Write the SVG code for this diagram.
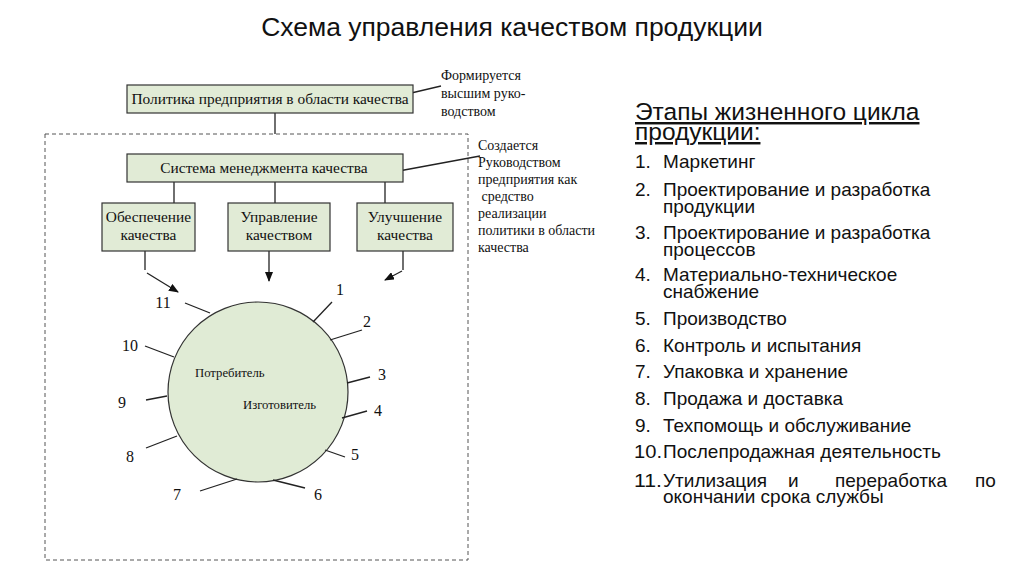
<svg xmlns="http://www.w3.org/2000/svg" width="1024" height="574" viewBox="0 0 1024 574">
<defs>
<marker id="arr" markerWidth="10" markerHeight="8" refX="9" refY="4" orient="auto" markerUnits="userSpaceOnUse">
<path d="M0,0 L10,4 L0,8 Z" fill="#111"/>
</marker>
<style>
.box{fill:#e1ebd6;stroke:#333;stroke-width:1.2}
.ln{stroke:#222;stroke-width:1.3;fill:none}
.tk{stroke:#222;stroke-width:1.3}
.sf{font-family:"Liberation Serif","Times New Roman",serif;fill:#111}
.ss{font-family:"Liberation Sans",Arial,sans-serif;fill:#111}
.bt{font-size:15.4px;text-anchor:middle}
.an{font-size:14px}
.num{font-size:16px;text-anchor:middle}
.li{font-size:19px}
</style>
</defs>
<rect width="1024" height="574" fill="#fff"/>
<text class="ss" x="512" y="36" font-size="26.5" text-anchor="middle">Схема управления качеством продукции</text>

<g id="frame">
<rect x="45" y="134" width="423" height="426" fill="none" stroke="#555" stroke-width="1" stroke-dasharray="4,3"/>
</g>

<g id="connectors">
<line class="ln" x1="275" y1="113" x2="275" y2="134"/>
<line class="ln" x1="407" y1="94" x2="441" y2="86"/>
<line class="ln" x1="388" y1="173" x2="480" y2="156"/>
<line class="ln" x1="174" y1="182" x2="174" y2="203"/>
<line class="ln" x1="275" y1="182" x2="275" y2="203"/>
<line class="ln" x1="385" y1="182" x2="385" y2="203"/>
<polyline class="ln" points="145,251 145,270"/>
<line class="ln" x1="147" y1="273" x2="178" y2="292" marker-end="url(#arr)"/>
<line class="ln" x1="269" y1="251" x2="269" y2="281" marker-end="url(#arr)"/>
<polyline class="ln" points="403,251 403,270"/>
<line class="ln" x1="402" y1="271" x2="385" y2="280" marker-end="url(#arr)"/>
</g>

<g id="policy">
<rect class="box" x="127" y="85" width="286" height="28"/>
<text class="sf bt" x="270" y="104">Политика предприятия в области качества</text>
</g>
<g id="policy-note">
<text class="sf an" x="441" y="80">Формируется</text>
<text class="sf an" x="441" y="98">высшим руко-</text>
<text class="sf an" x="441" y="116">водством</text>
</g>

<g id="qms">
<rect class="box" x="127" y="154" width="276" height="28"/>
<text class="sf bt" x="264" y="173">Система менеджмента качества</text>
</g>
<g id="qms-note">
<text class="sf an" x="478" y="150">Создается</text>
<text class="sf an" x="478" y="167">Руководством</text>
<text class="sf an" x="478" y="184">предприятия как</text>
<text class="sf an" x="478" y="201" xml:space="preserve"> средство</text>
<text class="sf an" x="478" y="218">реализации</text>
<text class="sf an" x="478" y="235">политики в области</text>
<text class="sf an" x="478" y="252">качества</text>
</g>

<g id="assurance">
<rect class="box" x="102" y="203" width="93" height="48"/>
<text class="sf bt" x="148.5" y="222">Обеспечение</text>
<text class="sf bt" x="148.5" y="240">качества</text>
</g>
<g id="management">
<rect class="box" x="228" y="203" width="102" height="48"/>
<text class="sf bt" x="279" y="222">Управление</text>
<text class="sf bt" x="279" y="240">качеством</text>
</g>
<g id="improvement">
<rect class="box" x="357" y="203" width="96" height="48"/>
<text class="sf bt" x="405" y="222">Улучшение</text>
<text class="sf bt" x="405" y="240">качества</text>
</g>

<g id="cycle">
<circle cx="258" cy="392" r="90" fill="#e0ebd5" stroke="#333" stroke-width="1.2"/>
<text class="sf" x="195" y="377" font-size="12.7">Потребитель</text>
<text class="sf" x="243" y="409" font-size="12.7">Изготовитель</text>
<line class="tk" x1="313" y1="322" x2="332" y2="302"/>
<line class="tk" x1="330" y1="340" x2="362" y2="330"/>
<line class="tk" x1="347" y1="383" x2="370" y2="377"/>
<line class="tk" x1="342" y1="418" x2="367" y2="411"/>
<line class="tk" x1="325" y1="450" x2="345" y2="457"/>
<line class="tk" x1="273" y1="480" x2="305" y2="488"/>
<line class="tk" x1="237" y1="479" x2="200" y2="491"/>
<line class="tk" x1="177" y1="436" x2="146" y2="448"/>
<line class="tk" x1="167" y1="396" x2="146" y2="400"/>
<line class="tk" x1="174" y1="357" x2="145" y2="346"/>
<line class="tk" x1="210" y1="313" x2="185" y2="303"/>
<text class="sf num" x="340" y="295">1</text>
<text class="sf num" x="367" y="327">2</text>
<text class="sf num" x="382" y="380">3</text>
<text class="sf num" x="378" y="416">4</text>
<text class="sf num" x="355" y="460">5</text>
<text class="sf num" x="318" y="500">6</text>
<text class="sf num" x="177" y="500">7</text>
<text class="sf num" x="130" y="462">8</text>
<text class="sf num" x="122" y="408">9</text>
<text class="sf num" x="130" y="351">10</text>
<text class="sf num" x="163" y="308">11</text>
</g>

<g id="stages">
<text class="ss" x="635" y="120" font-size="24.5" text-decoration="underline">Этапы жизненного цикла</text>
<text class="ss" x="635" y="140" font-size="24.5" text-decoration="underline">продукции:</text>
<text class="ss li" x="635" y="168">1.</text><text class="ss li" x="663" y="168">Маркетинг</text>
<text class="ss li" x="635" y="196">2.</text><text class="ss li" x="663" y="196">Проектирование и разработка</text>
<text class="ss li" x="663" y="213">продукции</text>
<text class="ss li" x="635" y="239">3.</text><text class="ss li" x="663" y="239">Проектирование и разработка</text>
<text class="ss li" x="663" y="256">процессов</text>
<text class="ss li" x="635" y="281">4.</text><text class="ss li" x="663" y="281">Материально-техническое</text>
<text class="ss li" x="663" y="298">снабжение</text>
<text class="ss li" x="635" y="325">5.</text><text class="ss li" x="663" y="325">Производство</text>
<text class="ss li" x="635" y="352">6.</text><text class="ss li" x="663" y="352">Контроль и испытания</text>
<text class="ss li" x="635" y="378">7.</text><text class="ss li" x="663" y="378">Упаковка и хранение</text>
<text class="ss li" x="635" y="405">8.</text><text class="ss li" x="663" y="405">Продажа и доставка</text>
<text class="ss li" x="635" y="432">9.</text><text class="ss li" x="663" y="432">Техпомощь и обслуживание</text>
<text class="ss li" x="634" y="458" textLength="28" lengthAdjust="spacingAndGlyphs">10.</text><text class="ss li" x="663" y="458">Послепродажная деятельность</text>
<text class="ss li" x="634" y="487" textLength="28" lengthAdjust="spacingAndGlyphs">11.</text><text class="ss li" x="663" y="487">Утилизация</text>
<text class="ss li" x="788" y="487">и</text>
<text class="ss li" x="835" y="487">переработка</text>
<text class="ss li" x="975" y="487">по</text>
<text class="ss li" x="663" y="503">окончании срока службы</text>
</g>
</svg>
